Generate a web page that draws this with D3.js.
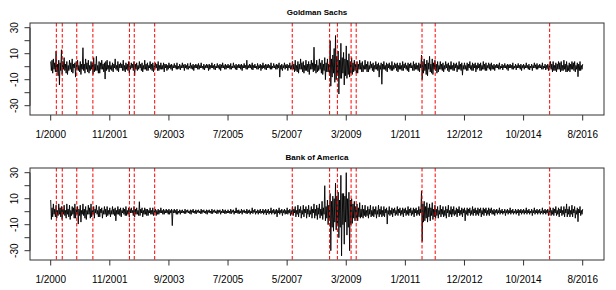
<!DOCTYPE html>
<html>
<head>
<meta charset="utf-8">
<script src="https://cdn.jsdelivr.net/npm/d3@7.9.0/dist/d3.min.js"></script>
<style>
  body { margin: 0; background: #fff; }
  svg { display: block; font-family: "Liberation Sans", Arial, sans-serif; }
</style>
</head>
<body>
<svg width="616" height="290"></svg>
<script>
// tick labels on the time axis (one every 22 units)
const tickPos = [0, 22, 44, 66, 88, 110, 132, 154, 176, 198];
const tickLabels = ['1/2000', '11/2001', '9/2003', '7/2005', '5/2007', '3/2009', '1/2011', '12/2012', '10/2014', '8/2016'];
const yTicks = [-30, -20, -10, 0, 10, 20, 30];
const yLabels = [-30, -10, 10, 30];

// event dates (dashed red lines), same units as the axis
const events = [2.1, 4.3, 9.7, 15.7, 29.3, 31.1, 38.7, 89.9, 103.8, 106.7, 111.8, 113.7, 138.2, 143.1, 185.7];

// Goldman Sachs returns (%), one array per axis interval, 4 samples per unit
const gs1 = [4,-3,5,-5, 6,-2,3,-4, 12,-4,2,-7, 5,-14,3,-3, 13,-6,4,-2, 7,-3,2,-5, 4,-6,1,-3, 5,-2,3,-4, 6,-5,2,-1, 3,-8,4,-2, 5,-3,1,-4,
  4,-6,2,-2, 14.6,-3,2,-5, 6,-2,3,-4, 5,-5,1,-3, 4,-2,3,-6, 7,-4,2,-3, 8,-3,1,-5, 4,-5,3,-2, 5,-2,2,-4, 3,-9.5,4,-3, 5,-2,1,-4];
const gs2 = [4,-2,1,-3, 3,-4,2,-1, 6,-2,1,-3, 4,-4,2,-1, 3,-1,2,-3, 5,-3,1,-4, 3,-2,2,-3, 4,-5,1,-2, 3,-1,2,-3, 4,-7,2,-2, 3,-3,1,-2,
  4,-1,2,-3, 3,-4,1,-2, 5,-2,2,-3, 3,-3,1,-1, 4,-2,2,-3, 3,-4,1,-2, 3,-1,2,-3, 4,-3,1,-2, 3,-2,1,-2, 3,-4,2,-1, 2,-3,1,-2];
const gs3 = [3,-1,1.5,-2, 2,-3,1,-1, 2.5,-1,1,-2, 3,-2,0.5,-1.5, 2,-2.5,1,-1, 3,-1,1.5,-3, 2,-1,1,-2, 2.5,-2,0.5,-1, 3,-1.5,1,-2, 2,-3,1,-1, 2,-1,1.5,-2,
  2.5,-2,1,-1, 3,-1,0.5,-2, 2,-2.5,1,-1, 2,-1,1.5,-3, 2,-2,1,-1, 3,-1,1,-2, 2,-2.5,0.5,-1, 2.5,-1,1,-2, 2,-3,1.5,-1, 3,-1,1,-2, 2,-2,1,-1];
const gs4 = [2,-1,1,-2, 2.5,-2,0.5,-1, 3,-1,1,-2, 2,-2.5,1,-1, 2,-1,1.5,-2, 2,-3,1,-1, 2.5,-1,1,-2, 5,-2,1,-1, 2,-1,1.5,-2, 3,-2.5,1,-1, 2,-1,0.5,-2,
  2.5,-2,1,-1, 2,-3,1,-1.5, 3,-1,1,-2, 2,-2.5,1.5,-1, 2,-1,1,-2, 3,-2,0.5,-1, 2.5,-1,1,-2, 2,-2,1.5,-1, 3,-8,1,-2, 2,-3,1,-1, 3,-2,1.5,-1];
const gs5 = [2,-3,1,-1, 3,-2,1,-2, 4,-2,2,-4, 5,-3,1,-4, 4,-5,2,-2, 6,-2,3,-4, 4,-5,1,-3, 5,-3,2,-4, 4,-6,2,-2, 5,-2,3,-4, 15,-3,2,-5,
  5,-4,1,-3, 6,-2,3,-5, 5,-6,2,-3, 7,-10,3,-4, 6,-4,2,-7, 20,-15,6,-8, 9,-5,14,-12, 24,-10,8,-6, 12,-21,5,-9, 18,-9,7,-5, 11,-14,6,-7];
const gs6 = [16,-9,5,-6, 10,-8,4,-5, 7,-6,3,-4, 5,-3,2,-5, 4,-5,2,-2, 5,-2,3,-4, 4,-4,1,-2, 5,-2,2,-4, 4,-4,1,-2, 4,-1,2,-3, 3,-4,1,-2,
  4,-2,2,-3, 3,-8,1,-2, 3,-13.5,2,-2, 4,-2,1,-3, 3,-4,2,-1, 3,-2,1,-3, 4,-3,1,-2, 3,-1,2,-3, 3,-4,1,-2, 3,-2,1,-3, 4,-3,2,-1];
const gs7 = [3,-2,1,-3, 3,-4,2,-1, 3,-1,1,-3, 4,-3,2,-2, 3,-2,1,-3, 3,-4,2,-1, 9,-10,4,-5, 6,-3,2,-6, 5,-7,3,-2, 8,-4,2,-5, 6,-6,3,-2,
  5,-3,2,-5, 4,-4,1,-2, 4,-2,2,-3, 3,-4,1,-2, 4,-1,2,-3, 3,-4,1,-2, 4,-2,1,-3, 3,-3,2,-1, 3,-4,1,-2, 4,-2,2,-3, 3,-6.5,1,-2];
const gs8 = [3,-2,1,-3, 3,-3,2,-1, 4,-2,1,-3, 3,-3,2,-1, 3,-4,1,-2, 3,-1,2,-3, 3,-3,1,-2, 4,-2,2,-3, 3,-3,1,-1, 3,-2,2,-3, 3,-2,1,-2,
  2,-3,1,-1, 2,-1,1.5,-2, 3,-2,0.5,-1, 2,-2.5,1,-1, 2.5,-1,1,-2, 2,-3,1.5,-1, 2,-1,1,-2, 3,-2,0.5,-1, 2,-2.5,1,-1, 2.5,-1,1,-2, 2,-3,1,-1];
const gs9 = [2,-2,1,-1, 3,-1,1,-2, 2,-2.5,0.5,-1, 2,-3,1,-1, 3,-1,1.5,-2, 2.5,-2,1,-1, 2,-1,1,-2, 3,-2,0.5,-1, 2,-2.5,1,-1.5, 2,-3,1,-1, 4,-2,2,-4,
  4,-3,1,-3, 3,-4,2,-2, 4,-2,3,-4, 4,-3,1,-3, 5,-2,2,-4, 4,-4,1,-3, 3,-4,2,-2, 4,-2,3,-3, 4,-4,1,-2, 3,-7.7,2,-3, 4,-3,1,-2, 2];

// Bank of America returns (%)
const bac1 = [9,-6,3,-4, 6,-2,2,-4, 5,-5,1,-3, 6,-2,3,-4, 4,-6,2,-2, 5,-3,1,-5, 6,-2,2,-4, 5,-6,1,-3, 4,-2,3,-5, 6,-5,2,-2, 4,-9.5,2,-3,
  5,-8,1,-2, 6,-3,2,-5, 4,-6,1,-2, 5,-2,3,-5, 6,-4,1,-2, 4,-5,2,-1, 5,-2,1,-4, 4,-4,2,-1, 3,-5,1,-2, 4,-2,2,-4, 4,-3,1,-2];
const bac2 = [3,-4,1,-2, 4,-2,2,-3, 3,-7,1,-2, 4,-2,2,-3, 3,-4,1,-1, 3,-2,2,-3, 4,-3,1,-2, 3,-4,2,-1, 3,-1,1,-3, 4,-4,2,-2, 3,-2,1,-3,
  7.7,-3,2,-1, 3,-4,1,-2, 3,-2,2,-3, 2,-3,1,-1, 3,-2,1,-2, 3,-3,1,-1, 2,-3,1,-2, 2,-2,1,-1, 3,-1,1,-2, 2,-2,1,-1, 2,-1,1,-2];
const bac3 = [2,-2,1,-1, 2,-10.7,1,-1, 2,-1,1,-2, 2,-2,0.5,-1, 1.5,-2,1,-1, 1.5,-1,0.5,-1.5, 2,-1.5,1,-0.5, 1.5,-1,0.5,-1.5, 1.5,-2,1,-0.5, 2,-1,0.5,-1.5, 1.5,-1.5,1,-0.5,
  1.5,-1,0.5,-1.5, 2,-1.5,1,-0.5, 1.5,-1,0.5,-1.5, 1.5,-2,1,-0.5, 1.5,-1,0.5,-1.5, 2,-1.5,1,-0.5, 1.5,-1,0.5,-1.5, 1.5,-1.5,1,-0.5, 1.5,-2,0.5,-1, 2,-1,1,-1.5, 1.5,-1.5,0.5,-1];
const bac4 = [1.5,-1,0.5,-1.5, 2,-1.5,1,-0.5, 1.5,-2,0.5,-1, 3,-1,1,-1.5, 1.5,-1.5,0.5,-1, 2,-2,1,-0.5, 1.5,-1,0.5,-1.5, 2,-1.5,1,-1, 1.5,-2,0.5,-1, 3,-1.5,1,-0.5, 2,-2,0.5,-1,
  1.5,-2,1,-1, 2,-1.5,0.5,-1, 2,-2,1,-1, 2,-2.5,1,-1, 2,-2,0.5,-1, 3,-2,1,-1, 2,-2,1,-1.5, 2,-4,1,-1, 3,-2,1,-1, 2,-3,1,-1, 2,-2,1,-1.5];
const bac5 = [3,-2,1,-1, 2,-3,1,-2, 4,-3,2,-1, 4,-4,1,-2, 5,-4,2,-1, 4,-5,1,-2, 5,-4,2,-1, 4,-5,2,-2, 5,-4,1,-2, 4,-5,2,-1, 6,-5,2,-3,
  5,-6,3,-2, 6,-5,2,-3, 8,-6,3,-2, 20,-7,4,-5, 9,-10,5,-6, 14,-30,8,-12, 12,-15,10,-8, 22,-14,12,-10, 15,-20,9,-12, 28,-34,14,-10, 14,-25,12,-8];
const bac6 = [30,-18,10,-12, 15,-30,9,-10, 10,-9,6,-5, 8,-7,4,-5, 6,-7,3,-4, 7,-5,2,-4, 5,-5,2,-3, 5,-4,1,-3, 4,-5,2,-2, 5,-4,1,-3, 4,-4,2,-2,
  4,-5,1,-2, 5,-4,2,-2, 4,-4,1,-3, 4,-4,2,-1, 3,-9.5,1,-2, 4,-3,1,-2, 3,-4,2,-1, 3,-3,1,-2, 4,-3,2,-1, 3,-3,1,-2, 3,-4,2,-1];
const bac7 = [3,-3,1,-2, 4,-3,2,-1, 3,-3,1,-2, 3,-4,2,-1, 3,-3,1,-2, 4,-3,2,-1, 16,-23,6,-8, 8,-7,4,-5, 7,-8,3,-4, 6,-7,3,-3, 7,-6,2,-4,
  5,-5,2,-3, 4,-5,1,-2, 5,-4,2,-2, 4,-4,1,-3, 4,-5,2,-1, 5,-4,1,-2, 4,-4,2,-2, 4,-3,1,-2, 3,-4,2,-1, 4,-3,1,-2, 3,-4,2,-1];
const bac8 = [3,-7,1,-2, 3,-3,2,-1, 3,-3,1,-2, 4,-3,2,-1, 3,-3,1,-2, 3,-3,2,-1, 3,-4,1,-2, 3,-3,2,-1, 3,-3,1,-2, 3,-3,2,-1, 3,-2,1,-2,
  2,-3,1,-1, 2,-2,1,-1, 3,-2,1,-1, 2,-2,0.5,-1, 2,-3,1,-1, 2,-2,1,-1, 3,-2,1,-1, 2,-2,0.5,-1, 2,-2,1,-1, 2,-3,1,-1, 2,-2,1,-1];
const bac9 = [2,-2,1,-1, 3,-2,1,-1, 2,-2,0.5,-1, 2,-3,1,-1, 3,-2,1,-1, 2,-2,1,-1, 2,-2,0.5,-1, 3,-2,1,-1, 2,-2,1,-1, 2,-3,1,-1, 3,-3,1,-2,
  3,-3,2,-1, 4,-3,1,-2, 3,-4,2,-1, 4,-3,1,-2, 4,-4,2,-1, 6,-4,2,-2, 4,-4,1,-2, 5,-4,2,-1, 4,-5,1,-2, 3,-7.7,2,-1, 4,-3,1,-2, 2];

const panels = [
  { title: 'Goldman Sachs', chunks: [gs1, gs2, gs3, gs4, gs5, gs6, gs7, gs8, gs9], top: 0 },
  { title: 'Bank of America', chunks: [bac1, bac2, bac3, bac4, bac5, bac6, bac7, bac8, bac9], top: 145 }
];

const svg = d3.select('svg');

// scales shared by both panels
const x = d3.scaleLinear().domain([0, 198]).range([50.7, 582.7]);
const y = d3.scaleLinear().domain([-30, 30]).range([105.7, 27.7]);
const boxLeft = 30, boxRight = 604, boxTop = 23, boxBottom = 115;

panels.forEach(p => {
  const g = svg.append('g').attr('transform', `translate(0,${p.top})`);

  // each chunk covers 22 axis units, 4 samples per unit
  const pts = p.chunks.flatMap((c, k) => c.map((v, j) => [22 * k + j / 4, v]));

  const line = d3.line()
    .x(d => x(d[0]))
    .y(d => y(d[1]));
  g.append('path')
    .datum(pts)
    .attr('d', line)
    .attr('fill', 'none')
    .attr('stroke', '#000')
    .attr('stroke-width', 0.9);

  // event lines
  g.selectAll('line.event')
    .data(events)
    .join('line')
    .attr('class', 'event')
    .attr('x1', d => x(d)).attr('x2', d => x(d))
    .attr('y1', boxTop).attr('y2', boxBottom)
    .attr('stroke', '#ff0000')
    .attr('stroke-width', 1)
    .attr('stroke-dasharray', '3.5,2');

  // box
  g.append('rect')
    .attr('x', boxLeft).attr('y', boxTop)
    .attr('width', boxRight - boxLeft).attr('height', boxBottom - boxTop)
    .attr('fill', 'none')
    .attr('stroke', '#333')
    .attr('stroke-width', 1);

  // x axis ticks + labels
  g.selectAll('line.xt')
    .data(tickPos)
    .join('line')
    .attr('x1', d => x(d)).attr('x2', d => x(d))
    .attr('y1', boxBottom).attr('y2', boxBottom + 5.5)
    .attr('stroke', '#333');
  g.selectAll('text.xl')
    .data(tickPos)
    .join('text')
    .attr('x', d => x(d))
    .attr('y', 137.5)
    .attr('text-anchor', 'middle')
    .attr('font-size', 10)
    .text((d, i) => tickLabels[i]);

  // y axis
  g.append('line')
    .attr('x1', boxLeft).attr('x2', boxLeft)
    .attr('y1', y(-30)).attr('y2', y(30))
    .attr('stroke', '#333');
  g.selectAll('line.yt')
    .data(yTicks)
    .join('line')
    .attr('x1', boxLeft - 5.5).attr('x2', boxLeft)
    .attr('y1', d => y(d)).attr('y2', d => y(d))
    .attr('stroke', '#333');
  g.selectAll('text.yl')
    .data(yLabels)
    .join('text')
    .attr('transform', d => `translate(17.5,${y(d)}) rotate(-90)`)
    .attr('text-anchor', 'middle')
    .attr('font-size', 10)
    .text(d => d);

  // title
  g.append('text')
    .attr('x', (boxLeft + boxRight) / 2)
    .attr('y', 15)
    .attr('text-anchor', 'middle')
    .attr('font-size', 8)
    .attr('font-weight', 'bold')
    .text(p.title);
});
</script>
</body>
</html>
